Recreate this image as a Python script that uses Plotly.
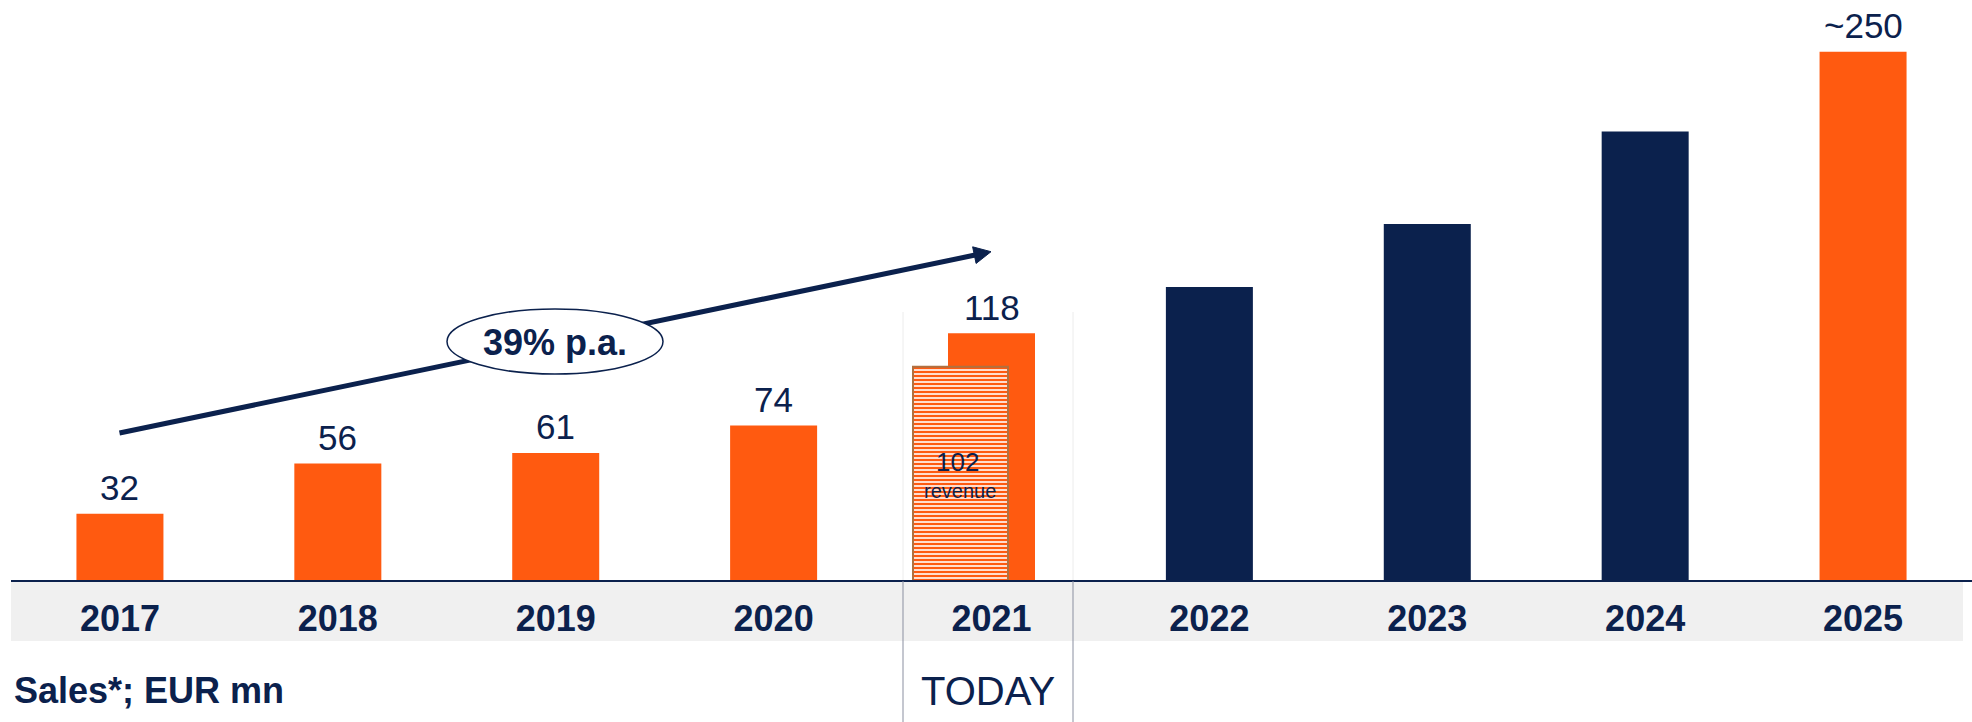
import plotly.graph_objects as go

# ---- data ----
years = ["2017", "2018", "2019", "2020", "2021", "2022", "2023", "2024", "2025"]
sales = [32, 56, 61, 74, 118, 140, 170, 214, 252]
value_labels = ["32", "56", "61", "74", "118", "", "", "", "~250"]
is_forecast_dark = [False, False, False, False, False, True, True, True, False]
revenue_year = ["2021"]
revenue_value = [102]
revenue_labels = ["102", "revenue"]
cagr_text = "39% p.a."
unit_text = "Sales*; EUR mn"
today_text = "TODAY"

ORANGE = "#ff5a10"
NAVY = "#0b214d"
FONT = "Arial, Liberation Sans, sans-serif"

W, H = 1972, 722
ML, MR = 11, 0
PW = W - ML - MR
BASE = 581            # pixel row of value 0
K = 2.1               # pixels per EUR mn
ymax = BASE / K
ymin = -(H - BASE) / K
CAT = PW / len(years)


def px(xp):
    return (xp - ML) / PW


def py(yp):
    return (H - yp) / H


def cat_x(xp):
    return (xp - ML) / CAT - 0.5


def val_y(yp):
    return (BASE - yp) / K


colors = [NAVY if d else ORANGE for d in is_forecast_dark]

fig = go.Figure()
fig.add_trace(go.Bar(
    x=years, y=sales, marker=dict(color=colors, line=dict(width=0)),
    width=87 / CAT, hoverinfo="x+y",
))
fig.add_trace(go.Bar(
    x=revenue_year, y=revenue_value, width=95 / CAT, offset=(913 - 991.5) / CAT,
    marker=dict(color=ORANGE, line=dict(color="#b07040", width=2),
                pattern=dict(shape="-", fillmode="replace", bgcolor=ORANGE,
                             fgcolor="white", size=4, solidity=0.4)),
))

shapes = []
# grey band under axis
shapes.append(dict(type="rect", xref="paper", yref="paper", x0=0, x1=px(1963),
                   y0=py(641), y1=py(BASE), fillcolor="#f0f0f0", line=dict(width=0), layer="below"))
# TODAY frame lines
for xl in (903, 1073):
    shapes.append(dict(type="line", xref="paper", yref="paper", x0=px(xl), x1=px(xl),
                       y0=py(312), y1=py(BASE), line=dict(color="#ececec", width=1), layer="below"))
    shapes.append(dict(type="line", xref="paper", yref="paper", x0=px(xl), x1=px(xl),
                       y0=py(BASE), y1=py(H), line=dict(color="#8a8fa0", width=1), layer="above"))
# growth arrow
x0p, y0p = 119.5, 433.0
tx, ty = 991.0, 251.7
dx, dy = tx - x0p, ty - y0p
L = (dx * dx + dy * dy) ** 0.5
ux, uy = dx / L, dy / L
nx, ny = -uy, ux
hl, hw = 17, 8.5
bx, by = tx - hl * ux, ty - hl * uy
shapes.append(dict(type="line", xref="paper", yref="paper", x0=px(x0p), y0=py(y0p),
                   x1=px(bx + 2 * ux), y1=py(by + 2 * uy), line=dict(color=NAVY, width=5), layer="above"))
path = "M {} {} L {} {} L {} {} Z".format(
    px(tx), py(ty), px(bx + hw * nx), py(by + hw * ny), px(bx - hw * nx), py(by - hw * ny))
shapes.append(dict(type="path", xref="paper", yref="paper", path=path,
                   fillcolor=NAVY, line=dict(color=NAVY, width=1), layer="above"))
# ellipse
shapes.append(dict(type="circle", xref="paper", yref="paper", x0=px(447), x1=px(663),
                   y0=py(374), y1=py(309), fillcolor="white", line=dict(color=NAVY, width=1.5),
                   layer="above"))

annotations = []
for i, (v, lab) in enumerate(zip(sales, value_labels)):
    if lab:
        annotations.append(dict(x=i, y=v, text=lab, showarrow=False, xanchor="center",
                                yanchor="middle", yshift=26,
                                font=dict(family=FONT, size=35, color=NAVY)))
annotations.append(dict(x=cat_x(957), y=val_y(462), text=revenue_labels[0], showarrow=False,
                        xanchor="center", font=dict(family=FONT, size=26, color=NAVY)))
annotations.append(dict(x=cat_x(960), y=val_y(491), text=revenue_labels[1], showarrow=False,
                        xanchor="center", font=dict(family=FONT, size=20, color=NAVY)))
annotations.append(dict(xref="paper", yref="paper", x=px(555), y=py(342), text=cagr_text,
                        showarrow=False, xanchor="center", yanchor="middle",
                        font=dict(family=FONT, size=36, color=NAVY, weight="bold")))
annotations.append(dict(x=cat_x(987.5), y=val_y(691), text=today_text, showarrow=False,
                        xanchor="center", font=dict(family=FONT, size=40, color=NAVY)))
annotations.append(dict(xref="paper", x=px(12), xanchor="left", y=val_y(690), text=unit_text,
                        showarrow=False, font=dict(family=FONT, size=36, color=NAVY, weight="bold")))

fig.update_layout(
    width=W, height=H, margin=dict(l=ML, r=MR, t=0, b=0, pad=0),
    plot_bgcolor="white", paper_bgcolor="white", showlegend=False,
    barmode="overlay", shapes=shapes, annotations=annotations,
    xaxis=dict(type="category", categoryorder="array", categoryarray=years,
               range=[-0.5, len(years) - 0.5], anchor="free", position=(H - BASE) / H,
               showline=True, linecolor=NAVY, linewidth=2, ticks="", showgrid=False,
               zeroline=False, ticklabelstandoff=6,
               tickfont=dict(family=FONT, size=36, color=NAVY, weight="bold")),
    yaxis=dict(range=[ymin, ymax], visible=False, showgrid=False, zeroline=False),
)

fig.write_html("out.html")
